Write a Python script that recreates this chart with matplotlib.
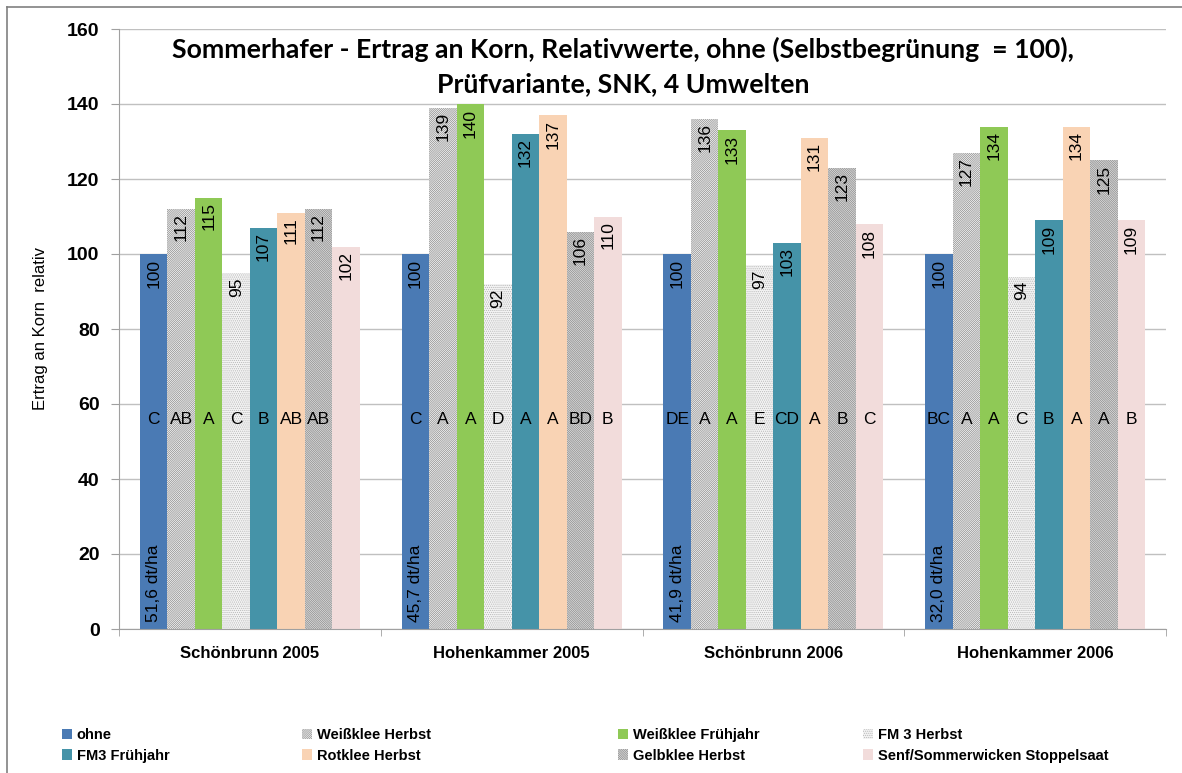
import numpy as np
import matplotlib
matplotlib.use("Agg")
import matplotlib.pyplot as plt
from matplotlib.patches import Patch
from matplotlib.lines import Line2D

# data
sites = ['Schönbrunn 2005', 'Hohenkammer 2005', 'Schönbrunn 2006', 'Hohenkammer 2006']
variants = ['ohne', 'Weißklee Herbst', 'Weißklee Frühjahr', 'FM 3 Herbst',
            'FM3 Frühjahr', 'Rotklee Herbst', 'Gelbklee Herbst',
            'Senf/Sommerwicken Stoppelsaat']
values = [
    [100, 112, 115, 95, 107, 111, 112, 102],
    [100, 139, 140, 92, 132, 137, 106, 110],
    [100, 136, 133, 97, 103, 131, 123, 108],
    [100, 127, 134, 94, 109, 134, 125, 109],
]
letters = [
    ['C', 'AB', 'A', 'C', 'B', 'AB', 'AB', ''],
    ['C', 'A', 'A', 'D', 'A', 'A', 'BD', 'B'],
    ['DE', 'A', 'A', 'E', 'CD', 'A', 'B', 'C'],
    ['BC', 'A', 'A', 'C', 'B', 'A', 'A', 'B'],
]
absolute = ['51,6 dt/ha', '45,7 dt/ha', '41,9 dt/ha', '32,0 dt/ha']

# styles per variant: facecolor, edgecolor (hatch colour), hatch
styles = [
    ('#4a7ab4', '#4a7ab4', None),
    ('#ffffff', '#909090', '/' * 16),
    ('#8fc956', '#8fc956', None),
    ('#f4f4f4', '#b8b8b8', '.' * 8),
    ('#4593a8', '#4593a8', None),
    ('#f9d3b4', '#f9d3b4', None),
    ('#ffffff', '#858585', '\\' * 18),
    ('#f2dcdb', '#f2dcdb', None),
]

plt.rcParams['font.family'] = ['Liberation Sans', 'DejaVu Sans']
plt.rcParams['hatch.linewidth'] = 0.55

fig = plt.figure(figsize=(11.82, 7.73), dpi=100)
ax = fig.add_axes([119 / 1182, 1 - 629 / 773, (1166 - 119) / 1182, (629 - 29) / 773])

n = len(variants)
w = 0.84 / n
x = np.arange(len(sites))

for j in range(n):
    fc, ec, h = styles[j]
    vals = [values[i][j] for i in range(len(sites))]
    pos = x + (j - (n - 1) / 2) * w
    ax.bar(pos, vals, width=w, color=fc, edgecolor=ec, hatch=h, linewidth=0,
           zorder=2)
    for i in range(len(sites)):
        ax.text(pos[i], vals[i] - 1.2, str(vals[i]), rotation=90, ha='center',
                va='top', fontsize=12.5, zorder=3)
        if letters[i][j]:
            ax.text(pos[i], 56, letters[i][j], ha='center', va='center',
                    fontsize=12.5, zorder=3)
        if j == 0:
            ax.text(pos[i], 2, absolute[i], rotation=90, ha='center',
                    va='bottom', fontsize=12.5, zorder=3)

ax.set_xlim(-0.5, len(sites) - 0.5)
ax.set_ylim(0, 160)
ax.set_yticks(range(0, 161, 20))
ax.yaxis.grid(True, color='#c0c0c0', linewidth=1, zorder=0)
ax.set_axisbelow(True)
ax.set_xticks(x)
ax.set_xticklabels(sites, fontsize=12, fontweight='bold')
ax.set_xticks(np.arange(-0.5, len(sites)), minor=True)
ax.tick_params(axis='x', which='major', length=0, pad=12)
ax.tick_params(axis='x', which='minor', length=5, color='#a0a0a0')
ax.tick_params(axis='y', length=6, color='#a0a0a0', labelsize=14, pad=8)
for lab in ax.get_yticklabels():
    lab.set_fontweight('bold')
for s in ['top', 'right']:
    ax.spines[s].set_visible(False)
for s in ['left', 'bottom']:
    ax.spines[s].set_color('#a0a0a0')
ax.set_ylabel('Ertrag an Korn  relativ', fontsize=12, labelpad=14)

title_font = ['Lato', 'DejaVu Sans']
fig.text(623 / 1182, 1 - 49 / 773,
         'Sommerhafer - Ertrag an Korn, Relativwerte, ohne (Selbstbegrünung  = 100),',
         ha='center', va='center', fontsize=19.2, fontweight='bold',
         family=title_font)
fig.text(623 / 1182, 1 - 84 / 773, 'Prüfvariante, SNK, 4 Umwelten',
         ha='center', va='center', fontsize=19.2, fontweight='bold',
         family=title_font)

# legend: four columns of two entries
handles = [Patch(facecolor=s[0], edgecolor=s[1], hatch=s[2], linewidth=0)
           for s in styles]
col_x = [62, 302, 618, 863]
for c in range(4):
    idx = [c, c + 4]
    fig.legend([handles[k] for k in idx], [variants[k] for k in idx],
               loc='upper left', bbox_to_anchor=(col_x[c] / 1182, 1 - 728 / 773),
               frameon=False, handlelength=0.7, handleheight=0.7,
               handletextpad=0.3, labelspacing=0.45, borderaxespad=0,
               borderpad=0, prop={'weight': 'bold', 'size': 10.5})

# outer frame
fig.add_artist(Line2D([7 / 1182, 7 / 1182], [0, 1 - 7 / 773], color='#808080',
                      linewidth=1.2, transform=fig.transFigure))
fig.add_artist(Line2D([7 / 1182, 1], [1 - 7 / 773, 1 - 7 / 773], color='#808080',
                      linewidth=1.2, transform=fig.transFigure))

fig.savefig('out.png', dpi=100)
